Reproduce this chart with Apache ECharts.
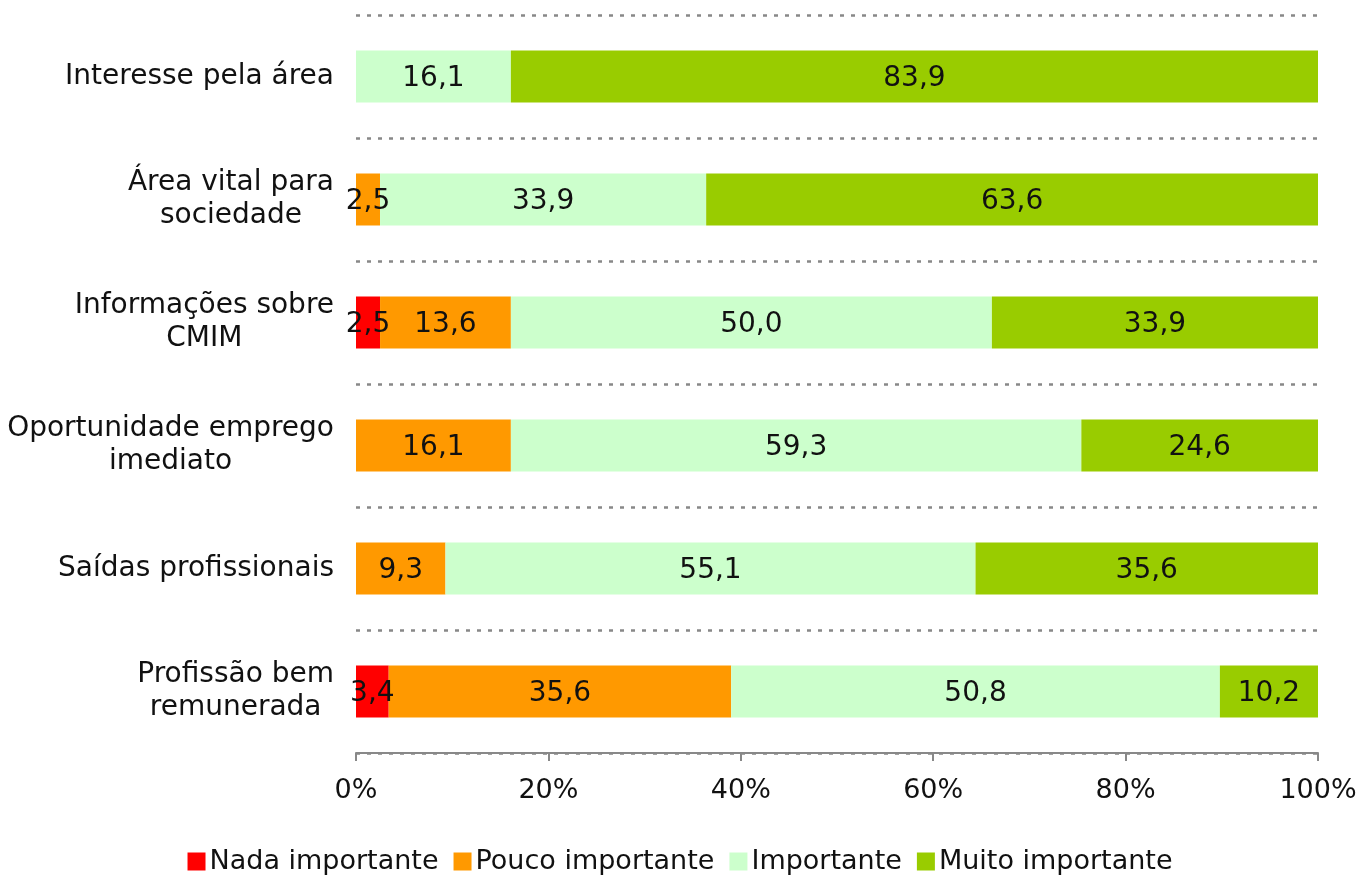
<!DOCTYPE html>
<html>
<head>
<meta charset="utf-8">
<script src="https://cdn.jsdelivr.net/npm/echarts@6/dist/echarts.min.js"></script>
<style>
  html, body { margin: 0; padding: 0; background: #fff; }
  #chart { width: 1360px; height: 875px; }
</style>
</head>
<body>
<div id="chart"></div>
<script>
// categorias (de cima para baixo)
const categories = [
  'Interesse pela área',
  'Área vital para\nsociedade',
  'Informações sobre\nCMIM',
  'Oportunidade emprego\nimediato',
  'Saídas profissionais',
  'Profissão bem\nremunerada'
];

// percentagens por nível de importância
const nada = [0, 0, 2.5, 0, 0, 3.4];
const pouco = [0, 2.5, 13.6, 16.1, 9.3, 35.6];
const importante = [16.1, 33.9, 50.0, 59.3, 55.1, 50.8];
const muito = [83.9, 63.6, 33.9, 24.6, 35.6, 10.2];

const seriesNames = ['Nada importante', 'Pouco importante', 'Importante', 'Muito importante'];
const seriesData = [nada, pouco, importante, muito];
const colors = ['#ff0000', '#ff9900', '#ccffcc', '#99cc00'];

const FONT = 'DejaVu Sans';
const FS = 27;
const FS_CAT = 28;

const chart = echarts.init(document.getElementById('chart'));

const option = {
  animation: false,
  color: colors,
  textStyle: { fontFamily: FONT },
  grid: {
    left: 356,
    right: 42,
    top: 15,
    bottom: 122
  },
  legend: {
    data: seriesNames,
    top: 843,
    left: 'center',
    icon: 'rect',
    itemWidth: 18,
    itemHeight: 18,
    itemGap: 15,
    textStyle: { fontFamily: FONT, fontSize: FS, color: '#111', padding: [0, 0, 0, -1] }
  },
  xAxis: {
    type: 'value',
    min: 0,
    max: 100,
    interval: 20,
    axisLine: { show: true, lineStyle: { color: '#888', width: 2 } },
    axisTick: { show: true, length: 8, lineStyle: { color: '#888', width: 2 } },
    splitLine: { show: false },
    axisLabel: {
      formatter: '{value}%',
      fontFamily: FONT,
      fontSize: FS,
      color: '#111',
      margin: 24
    }
  },
  yAxis: {
    type: 'category',
    inverse: true,
    data: categories,
    axisLine: { show: false },
    axisTick: { show: false },
    splitLine: {
      show: true,
      lineStyle: { color: '#888', width: 2.5, type: [4, 7] }
    },
    axisLabel: {
      margin: 22,
      fontFamily: FONT,
      fontSize: FS_CAT,
      color: '#111',
      lineHeight: 33,
      // cada linha centrada no bloco
      formatter: v => v.split('\n').map(s => '{c|' + s + '}').join('\n'),
      rich: {
        c: { align: 'center', fontFamily: FONT, fontSize: FS_CAT, color: '#111', lineHeight: 33 }
      }
    }
  },
  series: seriesNames.map((name, i) => ({
    name: name,
    type: 'bar',
    stack: 'total',
    barWidth: 52,
    data: seriesData[i],
    label: {
      show: true,
      position: 'inside',
      offset: [0, 2],
      fontFamily: FONT,
      fontSize: FS_CAT,
      color: '#111',
      formatter: p => (p.value > 0 ? p.value.toFixed(1).replace('.', ',') : '')
    }
  }))
};

chart.setOption(option);
</script>
</body>
</html>
